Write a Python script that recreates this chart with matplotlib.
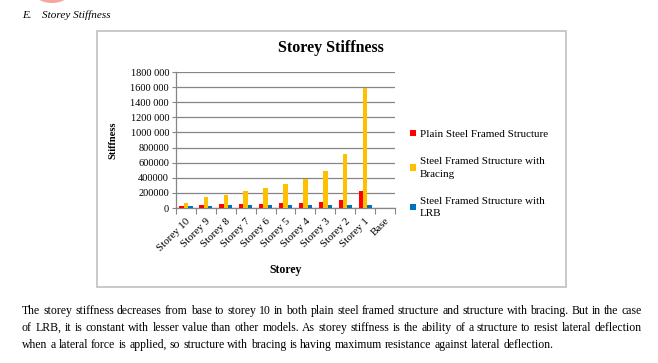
import matplotlib
matplotlib.use('Agg')
import matplotlib.pyplot as plt
import numpy as np
from matplotlib.patches import Rectangle, Ellipse

# data
storeys = ['Storey 10', 'Storey 9', 'Storey 8', 'Storey 7', 'Storey 6', 'Storey 5',
           'Storey 4', 'Storey 3', 'Storey 2', 'Storey 1', 'Base']
plain = [28000, 42000, 52000, 52000, 52000, 62000, 62000, 78000, 100000, 225000, 0]
bracing = [62000, 142000, 172000, 222000, 260000, 318000, 382000, 485000, 712000, 1590000, 0]
lrb = [24000, 30000, 42000, 42000, 42000, 42000, 42000, 42000, 42000, 42000, 0]
series_labels = ['Plain Steel Framed Structure',
                 'Steel Framed Structure with\nBracing',
                 'Steel Framed Structure with\nLRB']
colors = ['#FF0000', '#FFC000', '#0070C0']
yticks = [0, 200000, 400000, 600000, 800000, 1000000, 1200000, 1400000, 1600000, 1800000]

paragraph = [
    "The storey stiffness decreases from base to storey 10 in both plain steel framed structure and structure with bracing. But in the case",
    "of LRB, it is constant with lesser value than other models. As storey stiffness is the ability of a structure to resist lateral deflection",
    "when a lateral force is applied, so structure with bracing is having maximum resistance against lateral deflection.",
]

W, H = 658, 363
SERIF = 'Liberation Serif'
plt.rcParams['font.family'] = SERIF

fig = plt.figure(figsize=(W / 100, H / 100), dpi=100)
fig.patch.set_facecolor('white')

def fx(px):
    return px / W

def fy(py):
    return 1 - py / H

# bits of the page around the chart
fig.patches.append(Ellipse((fx(52), fy(-8)), fx(36), 22 / H, transform=fig.transFigure,
                           facecolor='#F4A6A0', edgecolor='none', zorder=-2))
fig.text(fx(22), fy(15), 'E.', fontsize=8, style='italic', va='center')
fig.text(fx(42), fy(15), 'Storey Stiffness', fontsize=8, style='italic', va='center')

# chart frame
fig.patches.append(Rectangle((fx(97), fy(287)), fx(469), 256 / H, transform=fig.transFigure,
                             facecolor='white', edgecolor='#C0C0C0', linewidth=1.2, zorder=-1))

ax = fig.add_axes([fx(176), fy(208), fx(219), 136 / H])
ax.set_zorder(1)
x = np.arange(len(storeys))
bw = 0.22
handles = []
for i, (vals, c, lab) in enumerate(zip([plain, bracing, lrb], colors, series_labels)):
    h = ax.bar(x + (i - 1) * bw, vals, bw, color=c, label=lab, zorder=3)
    handles.append(h)

ax.set_xlim(-0.5, len(storeys) - 0.5)
ax.set_ylim(0, 1800000)
ax.set_yticks(yticks)

def fmt(v):
    s = str(v)
    if v >= 1000000:
        return s[:-3] + ' ' + s[-3:]
    return s

ax.set_yticklabels([fmt(v) for v in yticks], fontsize=7.5)
ax.set_xticks(x)
ax.set_xticklabels(storeys, fontsize=7.8, rotation=45, ha='right', rotation_mode='anchor')
ax.set_xticks(np.arange(-0.5, len(storeys)), minor=True)
ax.tick_params(axis='x', which='major', length=0, pad=6)
ax.tick_params(axis='x', which='minor', length=4, color='#868686', width=0.8)
ax.tick_params(axis='y', length=3, color='#868686', width=0.8, pad=2)
ax.grid(axis='y', color='#868686', linewidth=0.9, zorder=0)
for s in ['top', 'right']:
    ax.spines[s].set_visible(False)
for s in ['left', 'bottom']:
    ax.spines[s].set_color('#868686')
    ax.spines[s].set_linewidth(0.9)

ax.set_ylabel('Stiffness', fontsize=7.5, fontweight='bold', labelpad=4)
ax.yaxis.set_label_coords(fx(117 - 176) / fx(219), 0.5)
ax.set_xlabel('Storey', fontsize=8.5, fontweight='bold')
ax.xaxis.set_label_coords(0.5, -(264 - 208) / 136)
fig.text(fx(331), fy(48), 'Storey Stiffness', fontsize=11.5, fontweight='bold',
         ha='center', va='center')

leg = ax.legend(handles=handles, loc='upper left', bbox_to_anchor=(fx(410), fy(130)),
                bbox_transform=fig.transFigure, frameon=False, fontsize=8,
                handlelength=0.5, handleheight=0.5, handletextpad=0.4,
                labelspacing=1.65, borderpad=0, borderaxespad=0)
for t in leg.get_texts():
    t.set_linespacing(1.45)

# justified paragraph
renderer = fig.canvas.get_renderer()
left, right = 22, 642
fs = 8.5
line_y = [311, 328, 345]
probe1 = fig.text(0, 0, 'a a', fontsize=fs)
probe2 = fig.text(0, 0, 'aa', fontsize=fs)
space = probe1.get_window_extent(renderer).width - probe2.get_window_extent(renderer).width
probe1.remove()
probe2.remove()
for li, line in enumerate(paragraph):
    words = line.split(' ')
    arts = [fig.text(0, fy(line_y[li]), w, fontsize=fs, va='center') for w in words]
    widths = [a.get_window_extent(renderer).width for a in arts]
    if li < len(paragraph) - 1:
        gap = (right - left - sum(widths)) / (len(words) - 1)
    else:
        gap = space
    cx = left
    for a, w in zip(arts, widths):
        a.set_x(fx(cx))
        cx += w + gap

fig.savefig('out.png', dpi=100)
